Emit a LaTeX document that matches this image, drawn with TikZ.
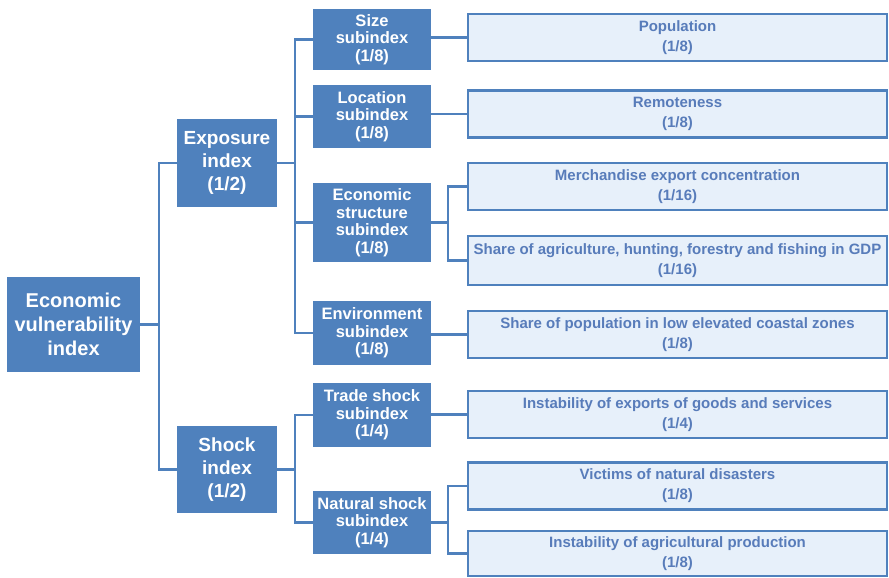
\documentclass[tikz,border=0pt]{standalone}
\usepackage{fontspec}
\setmainfont{Liberation Sans}
\definecolor{dblue}{RGB}{79,129,189}
\definecolor{lfill}{RGB}{231,240,250}
\definecolor{ltext}{RGB}{88,124,186}
\begin{document}
\begin{tikzpicture}[x=1pt,y=-1pt,
  conn/.style={draw=dblue,line width=2.6pt},
  darkbox/.style={fill=dblue,text=white,align=center,inner sep=0pt,font=\bfseries},
  rootbox/.style={darkbox,minimum width=133pt,minimum height=95pt,font=\bfseries\fontsize{20}{24}\selectfont},
  midbox/.style={darkbox,minimum width=100pt,minimum height=88pt,font=\bfseries\fontsize{19}{23}\selectfont},
  subbox/.style={darkbox,minimum width=118pt,font=\bfseries\fontsize{16.5}{17.5}\selectfont},
  leafbox/.style={draw=dblue,line width=2.6pt,fill=lfill,text=ltext,align=center,inner sep=0pt,
    minimum width=419pt,minimum height=47pt,font=\bfseries\fontsize{15}{20}\selectfont}]
\useasboundingbox (0,0) rectangle (889,578);
% level 0
\node[rootbox] (root) at (73.5,324.5) {Economic\\vulnerability\\index};
% level 1
\node[midbox] (expo) at (227,163) {Exposure\\index\\(1/2)};
\node[midbox,minimum height=87pt] (shock) at (227,469.5) {Shock\\index\\(1/2)};
% level 2
\node[subbox,minimum height=61pt] (size) at (372,39.5) {Size\\subindex\\(1/8)};
\node[subbox,minimum height=63pt] (loc) at (372,116.5) {Location\\subindex\\(1/8)};
\node[subbox,minimum height=79pt] (econ) at (372,222.5) {Economic\\structure\\subindex\\(1/8)};
\node[subbox,minimum height=64pt] (env) at (372,333) {Environment\\subindex\\(1/8)};
\node[subbox,minimum height=64pt] (trade) at (372,415) {Trade shock\\subindex\\(1/4)};
\node[subbox,minimum height=63pt] (nat) at (372,522.5) {Natural shock\\subindex\\(1/4)};
% level 3
\node[leafbox] (pop) at (677.5,37.5) {Population\\(1/8)};
\node[leafbox] (rem) at (677.5,114) {Remoteness\\(1/8)};
\node[leafbox] (merch) at (677.5,186.5) {Merchandise export concentration\\(1/16)};
\node[leafbox,minimum height=49pt] (agri) at (677.5,260.5) {Share of agriculture, hunting, forestry and fishing in GDP\\(1/16)};
\node[leafbox] (spop) at (677.5,334.5) {Share of population in low elevated coastal zones\\(1/8)};
\node[leafbox] (instx) at (677.5,414.5) {Instability of exports of goods and services\\(1/4)};
\node[leafbox] (vict) at (677.5,486) {Victims of natural disasters\\(1/8)};
\node[leafbox,minimum height=45pt] (insta) at (677.5,553.5) {Instability of agricultural production\\(1/8)};
% junctions
\coordinate (j1) at (159,324.5);
\coordinate (j2) at (295,163);
\coordinate (j3) at (295,469.5);
\coordinate (j4) at (448,222.5);
\coordinate (j5) at (448,522.5);
% connectors
\draw[conn] (root.east) -- (j1);
\draw[conn] (expo.west) -| (j1) |- (shock.west);
\draw[conn] (expo.east) -- (j2);
\draw[conn] (size.west) -| (j2) |- (env.west);
\draw[conn] (loc.west) -- (loc.west -| j2);
\draw[conn] (econ.west) -- (econ.west -| j2);
\draw[conn] (shock.east) -- (j3);
\draw[conn] (trade.west) -| (j3) |- (nat.west);
\draw[conn] (pop.west) -- (pop.west -| size.east);
\draw[conn] (rem.west) -- (rem.west -| loc.east);
\draw[conn] (econ.east) -- (j4);
\draw[conn] (merch.west) -| (j4) |- (agri.west);
\draw[conn] (spop.west) -- (spop.west -| env.east);
\draw[conn] (instx.west) -- (instx.west -| trade.east);
\draw[conn] (nat.east) -- (j5);
\draw[conn] (vict.west) -| (j5) |- (insta.west);
\end{tikzpicture}
\end{document}
